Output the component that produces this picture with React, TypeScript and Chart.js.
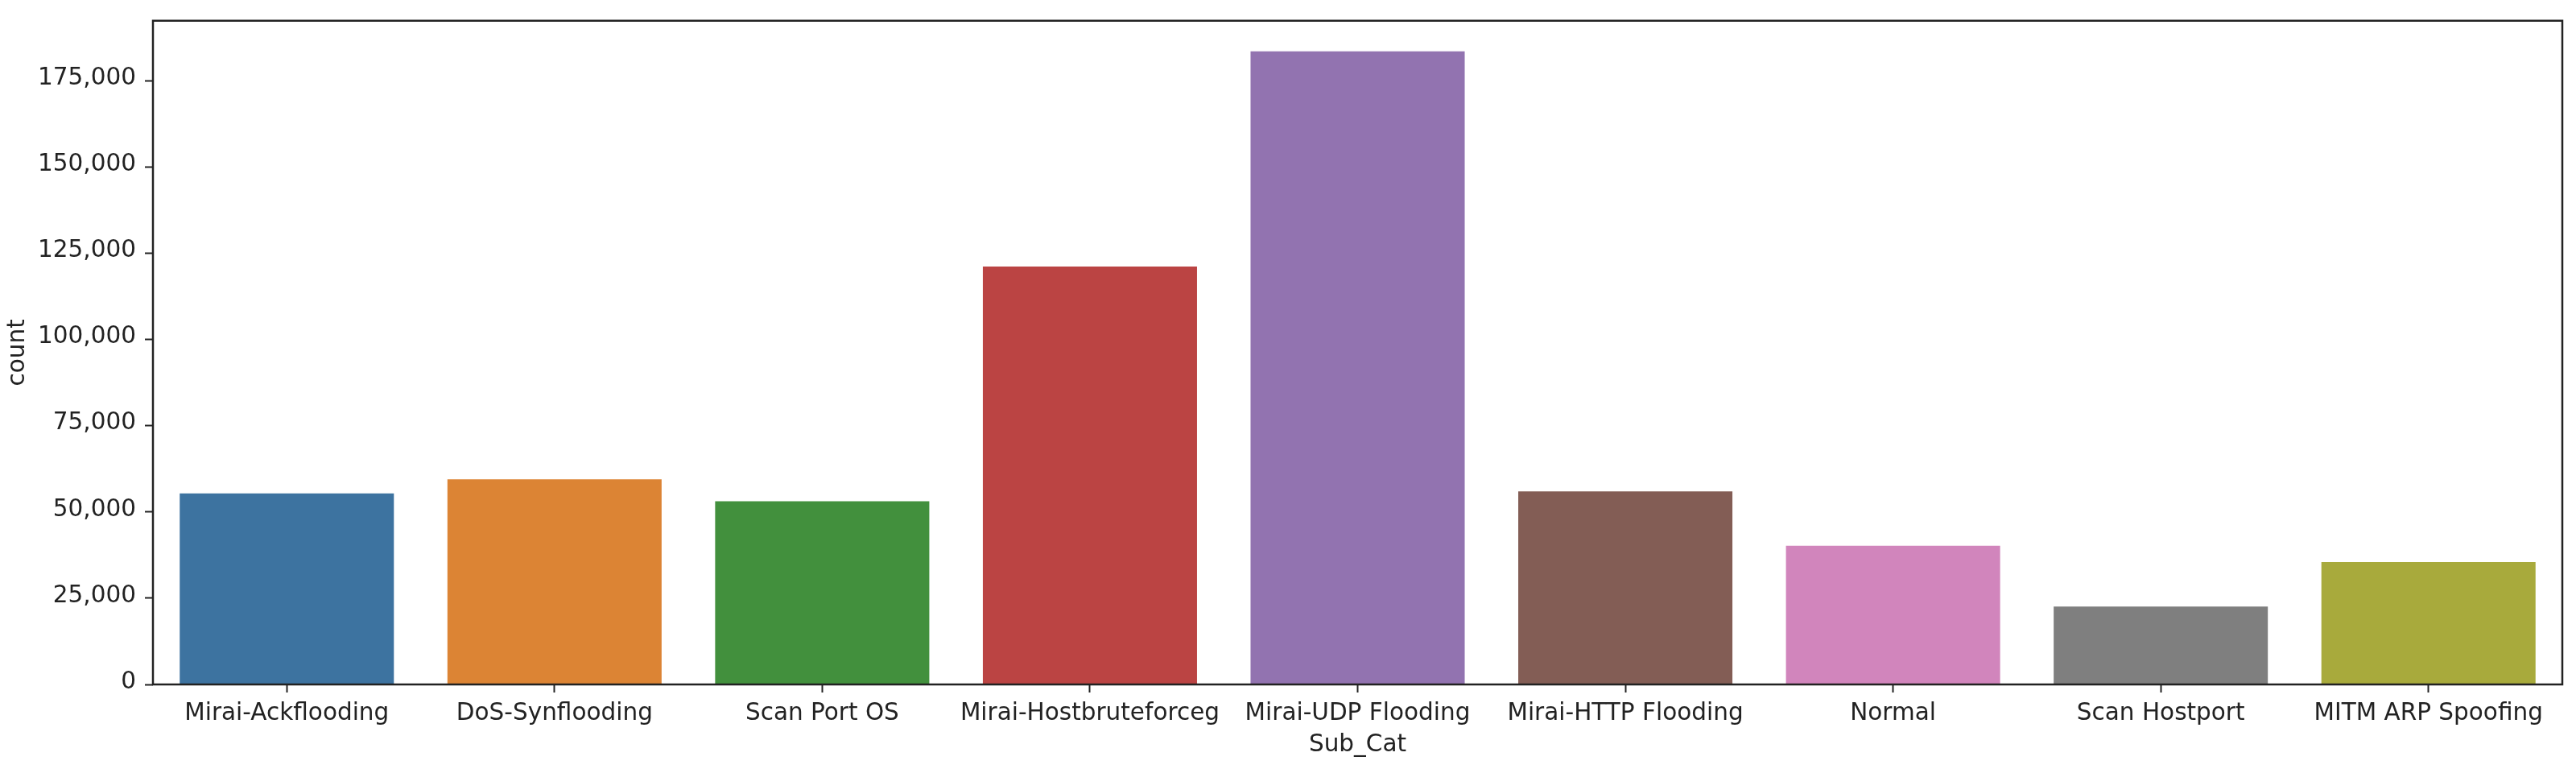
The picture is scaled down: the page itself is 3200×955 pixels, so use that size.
import React, { useEffect, useRef } from "react";
import { Chart, registerables } from "chart.js";

Chart.register(...registerables);

const categories = [
  "Mirai-Ackflooding",
  "DoS-Synflooding",
  "Scan Port OS",
  "Mirai-Hostbruteforceg",
  "Mirai-UDP Flooding",
  "Mirai-HTTP Flooding",
  "Normal",
  "Scan Hostport",
  "MITM ARP Spoofing",
];

const counts = [55400, 59500, 53100, 121200, 183600, 56000, 40200, 22600, 35500];

const barColors = [
  "#3d73a0",
  "#dc8434",
  "#42903d",
  "#bb4443",
  "#9273b0",
  "#835d55",
  "#d185bc",
  "#7f7f7f",
  "#a8aa3c",
];

const yTicks = [0, 25000, 50000, 75000, 100000, 125000, 150000, 175000];
const yMax = 192450;

const xTitle = "Sub_Cat";
const yTitle = "count";

const FONT = "'DejaVu Sans', sans-serif";
const FS = 29.5;
const INK = "#222222";

const framePlugin = {
  id: "frame",
  afterDatasetsDraw(chart: any) {
    const { ctx, chartArea } = chart;
    ctx.save();
    ctx.strokeStyle = INK;
    ctx.lineWidth = 2.5;
    ctx.strokeRect(chartArea.left, chartArea.top, chartArea.right - chartArea.left, chartArea.bottom - chartArea.top);
    ctx.restore();
  },
};

export default function App() {
  const ref = useRef<HTMLCanvasElement | null>(null);

  useEffect(() => {
    if (!ref.current) return;
    const chart = new Chart(ref.current, {
      type: "bar",
      data: {
        labels: categories,
        datasets: [
          {
            label: yTitle,
            data: counts,
            backgroundColor: barColors,
            borderWidth: 0,
            categoryPercentage: 1,
            barPercentage: 0.8,
          },
        ],
      },
      options: {
        responsive: false,
        animation: false,
        layout: { padding: { top: 24, right: 17, left: 0, bottom: 0 } },
        plugins: {
          legend: { display: false },
          tooltip: { enabled: false },
        },
        scales: {
          x: {
            type: "category",
            offset: true,
            border: { display: false },
            grid: {
              display: true,
              drawOnChartArea: false,
              drawTicks: true,
              offset: false,
              tickLength: 10,
              tickWidth: 2,
              tickColor: INK,
            },
            ticks: {
              color: INK,
              font: { family: FONT, size: FS, lineHeight: 1 },
              padding: 11.5,
              maxRotation: 0,
              autoSkip: false,
            },
            title: {
              display: true,
              text: xTitle,
              color: INK,
              font: { family: FONT, size: FS, lineHeight: 1 },
              padding: { top: 0, bottom: 15 },
            },
            afterFit: (scale: any) => {
              scale.height = 105;
            },
          },
          y: {
            type: "linear",
            min: 0,
            max: yMax,
            border: { display: false },
            grid: {
              display: true,
              drawOnChartArea: false,
              drawTicks: true,
              tickLength: 10,
              tickWidth: 2,
              tickColor: INK,
            },
            ticks: {
              color: INK,
              font: { family: FONT, size: FS, lineHeight: 1 },
              padding: 11,
              labelOffset: -3,
              callback: (v: any) => Number(v).toLocaleString("en-US"),
            },
            afterBuildTicks: (scale: any) => {
              scale.ticks = yTicks.map((v) => ({ value: v }));
            },
            title: {
              display: true,
              text: yTitle,
              color: INK,
              font: { family: FONT, size: FS, lineHeight: 1 },
              padding: { top: 8, bottom: 0 },
            },
            afterFit: (scale: any) => {
              scale.width = 190;
            },
          },
        },
      },
      plugins: [framePlugin],
    });
    return () => chart.destroy();
  }, []);

  return (
    <div style={{ position: "fixed", left: 0, top: 0, width: 3200, height: 955, background: "#ffffff" }}>
      <canvas ref={ref} width={3200} height={955} style={{ display: "block" }} />
    </div>
  );
}
